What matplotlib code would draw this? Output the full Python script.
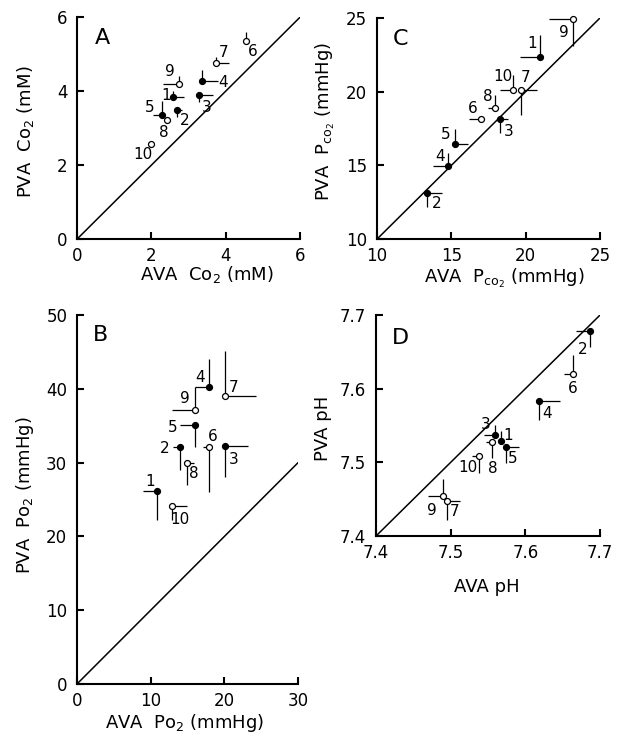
import matplotlib
matplotlib.use("Agg")
import matplotlib.pyplot as plt

plt.rcParams['font.family'] = ['DejaVu Sans']
plt.rcParams['mathtext.fontset'] = 'dejavusans'

# ---------------- data ----------------
point_labels = ['1', '2', '3', '4', '5', '6', '7', '8', '9', '10']
filled = [True, True, True, True, True, False, False, False, False, False]

# Panel A: CO2 content (mM)
A_x = [2.59, 2.68, 3.27, 3.37, 2.28, 4.55, 3.74, 2.41, 2.75, 2.00]
A_y = [3.83, 3.48, 3.89, 4.28, 3.35, 5.36, 4.77, 3.22, 4.18, 2.58]
A_xlo = [0, 0, 0, 0, 0.23, 0, 0, 0, 0.45, 0]
A_xhi = [0.30, 0.15, 0.38, 0.41, 0, 0, 0.36, 0, 0, 0]
A_ylo = [0, 0.17, 0.18, 0, 0, 0, 0, 0, 0, 0]
A_yhi = [0.18, 0, 0, 0.29, 0.39, 0.24, 0.15, 0, 0.23, 0]
A_ticks = [0, 2, 4, 6]
A_ticklabels = ['0', '2', '4', '6']

# Panel B: PO2 (mmHg)
B_x = [10.86, 14.03, 20.05, 17.96, 16.02, 17.96, 20.14, 14.93, 15.97, 12.90]
B_y = [26.1, 32.1, 32.2, 40.2, 35.1, 32.1, 39.0, 30.0, 37.2, 24.1]
B_xlo = [1.9, 1.0, 0, 1.9, 2.0, 0.9, 0, 0, 3.1, 0]
B_xhi = [0, 0, 3.1, 0, 0, 0, 4.1, 1.0, 0, 2.0]
B_ylo = [3.9, 3.1, 4.1, 0, 3.0, 6.1, 0, 3.0, 0, 1.9]
B_yhi = [0, 0, 0, 3.8, 0, 0, 6.1, 0, 3.0, 0]
B_xticks = [0, 10, 20, 30]
B_xticklabels = ['0', '10', '20', '30']
B_yticks = [0, 10, 20, 30, 40, 50]
B_yticklabels = ['0', '10', '20', '30', '40', '50']

# Panel C: PCO2 (mmHg)
C_x = [20.96, 13.38, 18.27, 14.80, 15.25, 16.97, 19.68, 17.96, 23.16, 19.17]
C_y = [22.34, 13.14, 18.15, 14.96, 16.45, 18.15, 20.12, 18.87, 24.92, 20.12]
C_xlo = [1.34, 0, 0, 1.01, 0, 0.76, 0, 0.47, 1.57, 0.90]
C_xhi = [0, 0.97, 0.56, 0, 0.89, 0, 1.06, 0, 0, 0]
C_ylo = [0, 0.95, 0.93, 0, 0, 0, 1.70, 0, 1.86, 0]
C_yhi = [1.51, 0, 0, 0.90, 1.00, 0, 0, 0.91, 0, 1.01]
C_ticks = [10, 15, 20, 25]
C_ticklabels = ['10', '15', '20', '25']

# Panel D: pH
D_x = [7.568, 7.686, 7.559, 7.618, 7.574, 7.664, 7.495, 7.556, 7.490, 7.538]
D_y = [7.529, 7.679, 7.5375, 7.584, 7.521, 7.620, 7.447, 7.527, 7.454, 7.509]
D_xlo = [0, 0.018, 0.014, 0, 0, 0.012, 0, 0.009, 0.021, 0.010]
D_xhi = [0, 0, 0, 0.029, 0.018, 0, 0.0175, 0, 0, 0]
D_ylo = [0, 0.023, 0, 0.026, 0.0215, 0, 0.025, 0.0215, 0, 0.024]
D_yhi = [0.014, 0, 0.0135, 0, 0, 0.026, 0, 0, 0.023, 0]
D_ticks = [7.4, 7.5, 7.6, 7.7]
D_ticklabels = ['7.4', '7.5', '7.6', '7.7']

# label offsets (pixels) relative to each point
A_off = [(-7, 2), (8, -10), (8, -12), (21, -2), (-12, 8), (7, -11), (7, 10), (-3, -13), (-9, 13), (-8, -11)]
B_off = [(-7, 10), (-16, -1), (9, -13), (-9, 10), (-22, -2), (3, 11), (8, 9), (7, -11), (-10, 11), (8, -13)]
C_off = [(-8, 14), (9, -11), (9, -13), (-8, 9), (-9, 10), (-8, 10), (5, 12), (-8, 12), (-9, -13), (-10, 13)]
D_off = [(7, 6), (-7, -19), (-9, 10), (8, -13), (7, -12), (0, -15), (8, -10), (0, -26), (-11, -14), (-11, -12)]

# ---------------- figure ----------------
fig = plt.figure(figsize=(6.18, 7.45), dpi=100)

axA = fig.add_axes([0.1246, 0.679, 0.361, 0.298])
axC = fig.add_axes([0.610, 0.679, 0.361, 0.297])
axB = fig.add_axes([0.1246, 0.0819, 0.3576, 0.495])
axD = fig.add_axes([0.6084, 0.2805, 0.3625, 0.2966])


def style(ax, xl, yl, xticks, xtl, yticks, ytl):
    ax.set_xlim(*xl)
    ax.set_ylim(*yl)
    for s in ['top', 'right']:
        ax.spines[s].set_visible(False)
    for s in ['left', 'bottom']:
        ax.spines[s].set_linewidth(1.5)
    ax.set_xticks(xticks)
    ax.set_xticklabels(xtl)
    ax.set_yticks(yticks)
    ax.set_yticklabels(ytl)
    ax.tick_params(direction='in', length=5, width=1.5, labelsize=12)
    ax.tick_params(axis='x', pad=6)
    ax.tick_params(axis='y', pad=7)


def draw(ax, x, y, xlo, xhi, ylo, yhi, offs, lo, hi):
    ax.plot([lo, hi], [lo, hi], color='black', lw=1.1, zorder=1)
    for i in range(len(x)):
        ax.errorbar(x[i], y[i], xerr=[[xlo[i]], [xhi[i]]], yerr=[[ylo[i]], [yhi[i]]],
                    fmt='o', ms=4.3, mec='black', mew=0.9,
                    mfc='black' if filled[i] else 'white',
                    ecolor='black', elinewidth=0.9, capsize=0, zorder=3, clip_on=False)
        ax.annotate(point_labels[i], (x[i], y[i]), xytext=offs[i], textcoords='offset pixels',
                    ha='center', va='center', fontsize=11)


draw(axA, A_x, A_y, A_xlo, A_xhi, A_ylo, A_yhi, A_off, 0, 6)
style(axA, (0, 6), (0, 6), A_ticks, A_ticklabels, A_ticks, A_ticklabels)
axA.text(0.08, 0.905, 'A', transform=axA.transAxes, fontsize=16, ha='left', va='center')
axA.set_xlabel(r'AVA  Co$_2$ (mM)', fontsize=13, va='center')
axA.xaxis.set_label_coords(0.583, -0.16)
axA.set_ylabel(r'PVA  Co$_2$ (mM)', fontsize=13, va='center')
axA.yaxis.set_label_coords(-0.233, 0.483)

draw(axC, C_x, C_y, C_xlo, C_xhi, C_ylo, C_yhi, C_off, 10, 25)
style(axC, (10, 25), (10, 25), C_ticks, C_ticklabels, C_ticks, C_ticklabels)
axC.text(0.072, 0.905, 'C', transform=axC.transAxes, fontsize=16, ha='left', va='center')
axC.set_xlabel(r'AVA  P$_{\mathregular{co}_2}$ (mmHg)', fontsize=13, va='center')
axC.xaxis.set_label_coords(0.57, -0.176)
axC.set_ylabel(r'PVA  P$_{\mathregular{co}_2}$ (mmHg)', fontsize=13, va='center')
axC.yaxis.set_label_coords(-0.229, 0.531)

draw(axB, B_x, B_y, B_xlo, B_xhi, B_ylo, B_yhi, B_off, 0, 30)
style(axB, (0, 30), (0, 50), B_xticks, B_xticklabels, B_yticks, B_yticklabels)
axB.text(0.072, 0.946, 'B', transform=axB.transAxes, fontsize=16, ha='left', va='center')
axB.set_xlabel(r'AVA  Po$_2$ (mmHg)', fontsize=13, va='center')
axB.xaxis.set_label_coords(0.489, -0.106)
axB.set_ylabel(r'PVA  Po$_2$ (mmHg)', fontsize=13, va='center')
axB.yaxis.set_label_coords(-0.235, 0.512)

draw(axD, D_x, D_y, D_xlo, D_xhi, D_ylo, D_yhi, D_off, 7.4, 7.7)
style(axD, (7.4, 7.7), (7.4, 7.7), D_ticks, D_ticklabels, D_ticks, D_ticklabels)
axD.text(0.07, 0.895, 'D', transform=axD.transAxes, fontsize=16, ha='left', va='center')
axD.set_xlabel('AVA pH', fontsize=13, va='center')
axD.xaxis.set_label_coords(0.494, -0.229)
axD.set_ylabel('PVA pH', fontsize=13, va='center')
axD.yaxis.set_label_coords(-0.238, 0.489)

fig.savefig('out.png', dpi=100)
